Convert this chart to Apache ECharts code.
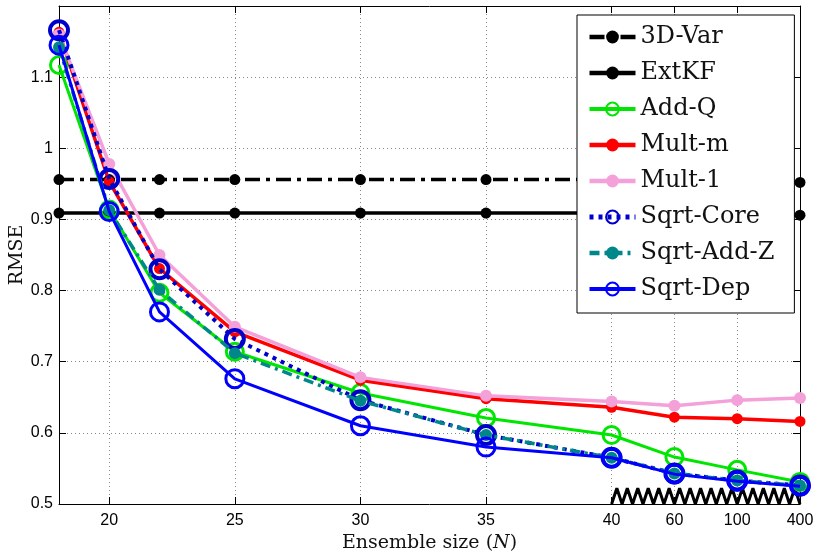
<!DOCTYPE html>
<html>
<head>
<meta charset="utf-8">
<script src="https://cdn.jsdelivr.net/npm/echarts@6/dist/echarts.min.js"></script>
<style>
html,body{margin:0;padding:0;background:#fff;}
#chart{width:816px;height:551px;}
</style>
</head>
<body>
<div id="chart"></div>
<script>
// ---- data ----
const ensembleSizes = [18, 20, 22, 25, 30, 35, 40, 60, 100, 400];
const xTickLabels = [20, 25, 30, 35, 40, 60, 100, 400];
const yTicks = [0.5, 0.6, 0.7, 0.8, 0.9, 1, 1.1];

const var3d     = [0.956, 0.956, 0.956, 0.956, 0.956, 0.956, 0.956, 0.956, 0.955, 0.952];
const extKF     = [0.909, 0.909, 0.909, 0.909, 0.909, 0.909, 0.909, 0.909, 0.908, 0.906];
const addQ      = [1.117, 0.914, 0.797, 0.714, 0.656, 0.621, 0.597, 0.566, 0.548, 0.531];
const multM     = [1.163, 0.953, 0.831, 0.742, 0.674, 0.648, 0.636, 0.622, 0.620, 0.616];
const mult1     = [1.160, 0.978, 0.850, 0.749, 0.678, 0.652, 0.644, 0.638, 0.646, 0.649];
const sqrtCore  = [1.166, 0.957, 0.830, 0.732, 0.646, 0.597, 0.565, 0.543, 0.533, 0.526];
const sqrtAddZ  = [1.142, 0.913, 0.801, 0.712, 0.645, 0.597, 0.565, 0.543, 0.533, 0.526];
const sqrtDep   = [1.145, 0.911, 0.770, 0.676, 0.610, 0.580, 0.565, 0.542, 0.532, 0.525];

// ---- broken x-axis scale: linear up to 40, then equal steps ----
const linearLimit = 40;
const brokenStep = 2.5;
const brokenSizes = ensembleSizes.filter(n => n > linearLimit);
function axisPos(n) {
  if (n <= linearLimit) return n;
  return linearLimit + brokenStep * (brokenSizes.indexOf(n) + 1);
}
const xTickPos = xTickLabels.map(axisPos);
function xLabel(v) {
  const i = xTickPos.findIndex(p => Math.abs(p - v) < 1e-6);
  return i >= 0 ? String(xTickLabels[i]) : '';
}
const xMin = ensembleSizes[0];
const xMax = axisPos(ensembleSizes[ensembleSizes.length - 1]);

// axis-break zigzag decoration
const zigTeeth = 18;
const zigHeight = 0.022;
const zigData = [];
(function () {
  const x0 = axisPos(linearLimit), x1 = xMax;
  const n = zigTeeth * 2;
  for (let i = 0; i <= n; i++) {
    zigData.push([x0 + (x1 - x0) * i / n, yTicks[0] + (i % 2 ? zigHeight : 0)]);
  }
})();

const serif = 'DejaVu Serif';
const sans = 'Liberation Sans';

const styles = {};
function mk(name, values, o) {
  styles[name] = o;
  return {
    name: name,
    type: 'line',
    data: ensembleSizes.map((n, i) => [axisPos(n), values[i]]),
    symbol: 'circle',
    symbolSize: o.size,
    z: o.z,
    clip: false,
    color: o.color,
    lineStyle: { color: o.color, width: o.width, type: o.type || 'solid' },
    itemStyle: o.open
      ? { color: 'rgba(255,255,255,0)', borderColor: o.color, borderWidth: o.bw }
      : { color: o.color, borderWidth: 0 },
    emphasis: { disabled: true }
  };
}

const seriesList = [
  mk('3D-Var', var3d, { color: '#000000', width: 3.5, type: [15, 6, 4, 6], size: 11, z: 2 }),
  mk('ExtKF', extKF, { color: '#000000', width: 3.5, size: 11, z: 3 }),
  mk('Add-Q', addQ, { color: '#00e600', width: 3, size: 17, open: true, bw: 3, z: 4 }),
  mk('Mult-m', multM, { color: '#ff0000', width: 3.5, size: 11, z: 5 }),
  mk('Mult-1', mult1, { color: '#f4a0d9', width: 3.5, size: 12, z: 6 }),
  mk('Sqrt-Core', sqrtCore, { color: '#0000cc', width: 4, type: [4, 5], size: 18, open: true, bw: 4, z: 7 }),
  mk('Sqrt-Add-Z', sqrtAddZ, { color: '#00878a', width: 3.5, type: [10, 5, 3, 5], size: 12, z: 8 }),
  mk('Sqrt-Dep', sqrtDep, { color: '#0000ff', width: 3, size: 18, open: true, bw: 3, z: 9 })
];
const legendNames = seriesList.map(s => s.name);

seriesList.unshift({
  name: 'break',
  type: 'line',
  data: zigData,
  symbol: 'none',
  z: 1,
  clip: false,
  lineStyle: { color: '#000', width: 3 },
  emphasis: { disabled: true },
  silent: true
});

const gridLine = { show: true, lineStyle: { color: '#888', width: 1, type: [1, 3] } };

const option = {
  animation: false,
  backgroundColor: '#fff',
  grid: { left: 59, right: 16, top: 6, bottom: 47, containLabel: false, outerBoundsMode: 'none' },
  legend: {
    data: legendNames.map(n => ({
      name: n,
      lineStyle: { width: styles[n].width + 1, type: styles[n].type || 'solid', color: styles[n].color }
    })),
    orient: 'vertical',
    left: 577,
    top: 15,
    itemWidth: 46,
    itemHeight: 16,
    itemGap: 12,
    padding: [10, 20, 12, 10],
    backgroundColor: '#fff',
    borderColor: '#000',
    borderWidth: 1,
    borderRadius: 0,
    textStyle: { fontFamily: serif, fontSize: 24, color: '#111' }
  },
  xAxis: [{
    type: 'value',
    min: xMin, max: xMax,
    position: 'bottom',
    axisLine: { show: true, lineStyle: { color: '#000', width: 1 } },
    axisTick: { show: true, inside: true, length: 7, customValues: xTickPos, lineStyle: { color: '#000' } },
    axisLabel: { customValues: xTickPos, formatter: xLabel, fontFamily: sans, fontSize: 16, color: '#000', margin: 9 },
    splitLine: gridLine,
    name: '{a|Ensemble size (}{b|N}{a|)}',
    nameLocation: 'middle',
    nameGap: 26,
    nameTextStyle: {
      rich: {
        a: { fontFamily: serif, fontSize: 19, color: '#111' },
        b: { fontFamily: serif, fontSize: 19, fontStyle: 'italic', color: '#111' }
      }
    }
  }, {
    type: 'value',
    min: xMin, max: xMax,
    position: 'top',
    axisLine: { show: true, onZero: false, lineStyle: { color: '#000', width: 1 } },
    axisTick: { show: true, inside: true, length: 7, customValues: xTickPos, lineStyle: { color: '#000' } },
    axisLabel: { show: false },
    splitLine: { show: false }
  }],
  yAxis: [{
    type: 'value',
    min: 0.5, max: 1.2, interval: 0.1,
    position: 'left',
    axisLine: { show: true, lineStyle: { color: '#000', width: 1 } },
    axisTick: { show: true, inside: true, length: 7, lineStyle: { color: '#000' } },
    axisLabel: { showMaxLabel: false, fontFamily: sans, fontSize: 16, color: '#000', margin: 6,
      formatter: v => String(Math.round(v * 10) / 10) },
    splitLine: gridLine,
    name: 'RMSE',
    nameLocation: 'middle',
    nameGap: 32,
    nameMoveOverlap: false,
    nameRotate: 90,
    nameTextStyle: { fontFamily: serif, fontSize: 19, color: '#111' }
  }, {
    type: 'value',
    min: 0.5, max: 1.2, interval: 0.1,
    position: 'right',
    axisLine: { show: true, onZero: false, lineStyle: { color: '#000', width: 1 } },
    axisTick: { show: true, inside: true, length: 7, lineStyle: { color: '#000' } },
    axisLabel: { show: false },
    splitLine: { show: false }
  }],
  series: seriesList
};

const chart = echarts.init(document.getElementById('chart'), null, { renderer: 'canvas' });
chart.setOption(option);
</script>
</body>
</html>
